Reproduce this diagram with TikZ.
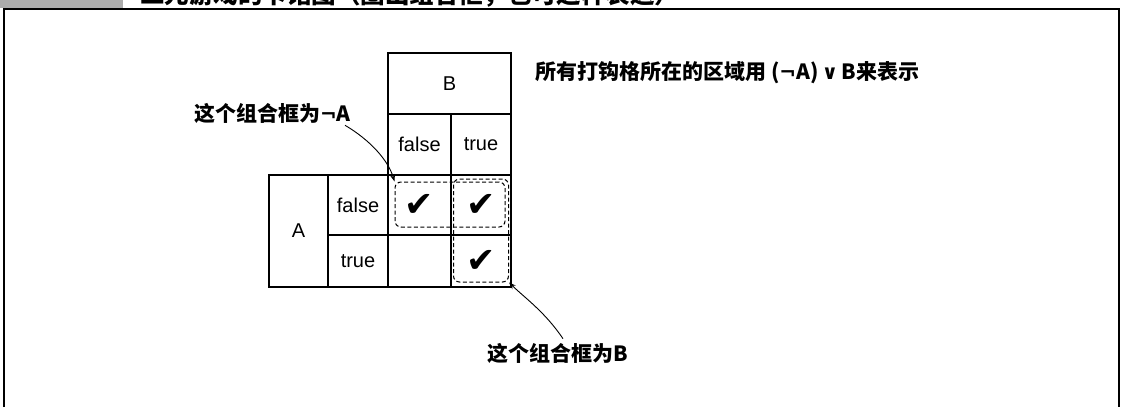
\documentclass[tikz,border=0pt]{standalone}
\usepackage{fontspec}
\setmainfont{Liberation Sans}
\newfontfamily\cjk{Noto Sans CJK SC}
\newfontfamily\sym{DejaVu Sans}
\usetikzlibrary{arrows.meta}
\tikzset{
  cell/.style={draw, line width=1.1pt, inner sep=0pt, font=\fontsize{20}{20}\selectfont},
  chk/.style={font=\sym\fontsize{35}{35}\selectfont, inner sep=0pt},
  grp/.style={draw, dashed, line width=1pt, rounded corners=6pt, inner sep=0pt, dash pattern=on 4pt off 2.5pt},
  lbl/.style={font=\cjk\bfseries\fontsize{21}{21}\selectfont, inner sep=0pt},
  arr/.style={line width=0.9pt, -{Stealth[length=7pt,width=5pt]}},
}
\begin{document}
\begin{tikzpicture}[x=1pt,y=-1pt]
\useasboundingbox (0,0) rectangle (1124,407);
% frame
\fill[gray!65] (0,0) rectangle (123,8);
\draw[line width=1.6pt] (4,407) -- (4,9) -- (1119,9) -- (1119,407);
\begin{scope}
\clip (130,0) rectangle (700,7.5);
\node[anchor=base west, inner sep=0pt, font=\cjk\bfseries\fontsize{24.5}{24.5}\selectfont] (title) at (140,3.5) {二元游戏的卡诺图（圈出组合框，也可这样表达）};
\end{scope}
% grid
\node[cell, minimum width=123pt, minimum height=61pt] (B) at (449.5,83.5) {B};
\node[cell, minimum width=63pt, minimum height=61pt] (Bf) at (419.5,144.5) {false};
\node[cell, minimum width=60pt, minimum height=61pt] (Bt) at (481,144.5) {true};
\node[cell, minimum width=59pt, minimum height=112pt] (A) at (298.5,231) {A};
\node[cell, minimum width=60pt, minimum height=60pt] (Af) at (358,205) {false};
\node[cell, minimum width=60pt, minimum height=52pt] (At) at (358,261) {true};
\node[cell, minimum width=63pt, minimum height=60pt] (c11) at (419.5,205) {};
\node[cell, minimum width=60pt, minimum height=60pt] (c12) at (481,205) {};
\node[cell, minimum width=63pt, minimum height=52pt] (c21) at (419.5,261) {};
\node[cell, minimum width=60pt, minimum height=52pt] (c22) at (481,261) {};
\node[chk] (k11) at (c11) {✔};
\node[chk] (k12) at (c12) {✔};
\node[chk] (k22) at (c22) {✔};
% groups
\node[grp, minimum width=110pt, minimum height=45pt] (gA) at (450,204.5) {};
\node[grp, minimum width=55pt, minimum height=103pt] (gB) at (481,230.5) {};
% labels
\node[lbl] (lA) at (272.5,113) {这个组合框为{\sym\fontsize{20}{20}\selectfont ¬}A};
\node[lbl] (lB) at (558,353) {这个组合框为B};
\node[lbl, anchor=west] (lR) at (535,73) {所有打钩格所在的区域用 ({\sym\fontsize{20}{20}\selectfont ¬}A)\,{\sym\fontsize{20}{20}\selectfont ∨}\,B来表示};
% arrows
\draw[arr] ([xshift=-6pt,yshift=-2pt]lA.south east) .. controls (370,140) and (388,160) .. (gA.north west);
\draw[arr] ([xshift=5pt,yshift=4pt]lB.north) .. controls (545,312) and (525,298) .. (gB.south east);
\end{tikzpicture}
\end{document}
